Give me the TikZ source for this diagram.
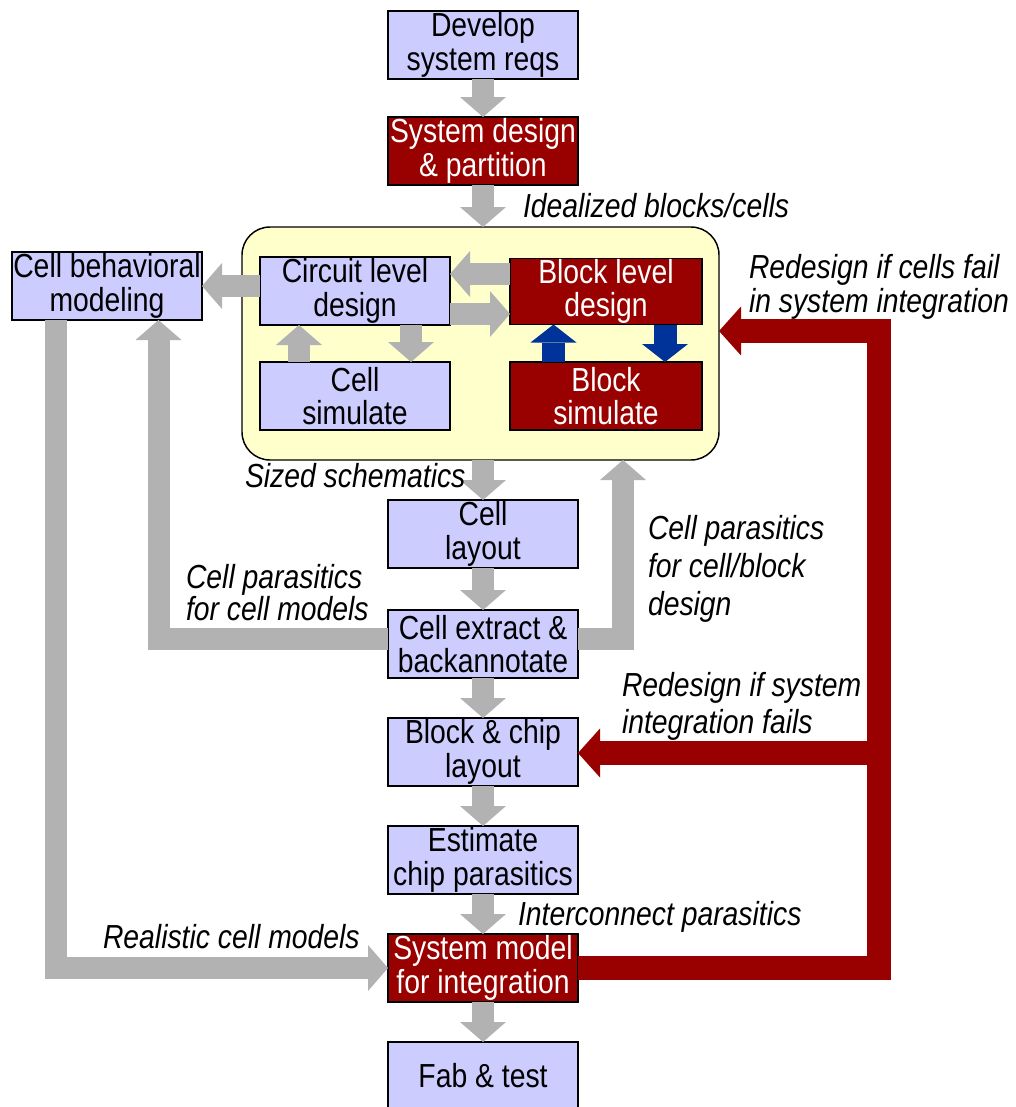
\documentclass[tikz,border=0pt]{standalone}
\usepackage{fontspec}
\setmainfont[FakeStretch=0.85]{Liberation Sans}
\usetikzlibrary{arrows.meta,calc}
\definecolor{boxlav}{HTML}{CCCCFF}
\definecolor{boxred}{HTML}{990000}
\definecolor{zonefill}{HTML}{FFFFCC}
\definecolor{flowgray}{HTML}{B2B2B2}
\definecolor{flowblue}{HTML}{003399}
\begin{document}
\begin{tikzpicture}[x=0.75pt,y=-0.75pt,
  every node/.style={outer sep=0pt},
  stage/.style={draw=black,line width=1.1pt,fill=boxlav,
    minimum width=142.5pt,minimum height=51pt,inner sep=0pt,align=center,
    font=\fontsize{25}{25}\selectfont},
  hotstage/.style={stage,fill=boxred,text=white},
  note/.style={inner sep=0pt,anchor=base west,align=left,
    font=\fontsize{25}{#1}\selectfont\itshape},
  note/.default=24pt,
  flow/.style={draw=flowgray,line width=16.5pt,line join=miter,
    -{Triangle[width=34.5pt,length=15pt,line width=0pt]}},
  redflow/.style={draw=boxred,line width=18pt,line join=miter,
    -{Triangle[width=36.75pt,length=16.5pt,line width=0pt]}},
  blueflow/.style={draw=flowblue,line width=17.25pt,
    -{Triangle[width=34.5pt,length=13.5pt,line width=0pt]}}
]
\useasboundingbox (0,0) rectangle (1016,1107);

% design zone around the circuit / block loop
\node[draw=black,line width=1.1pt,fill=zonefill,rounded corners=21pt,
  minimum width=357.75pt,minimum height=174.75pt] (zone) at (480.5,343.5) {};

% main flow stages
\node[stage]    (req)  at (483,45)   {Develop\\system reqs};
\node[hotstage] (sysd) at (483,151)  {System design\\\& partition};
\node[stage]    (cbm)  at (107,286)  {Cell behavioral\\modeling};
\node[stage]    (cld)  at (355,291)  {Circuit level\\design};
\node[stage]    (csim) at (355,396)  {Cell\\simulate};
\node[hotstage,minimum width=144pt,minimum height=49.5pt] (bld)  at (606,291.5) {Block level\\design};
\node[hotstage,minimum width=144pt] (bsim) at (606,396) {Block\\simulate};
\node[stage]    (clay) at (483,534)  {Cell\\layout};
\node[stage]    (cext) at (483,644)  {Cell extract \&\\backannotate};
\node[stage]    (bcl)  at (483,752)  {Block \& chip\\layout};
\node[stage]    (est)  at (483,860)  {Estimate\\chip parasitics};
\node[hotstage] (sysm) at (483,968)  {System model\\for integration};
\node[stage]    (fab)  at (483,1076) {Fab \& test};

% downward flow along the main column
\draw[flow] (req) -- (sysd);
\draw[flow] (sysd.south) -- (sysd.south |- zone.north);
\draw[flow] (clay.north |- zone.south) -- (clay.north);
\draw[flow] (clay) -- (cext);
\draw[flow] (cext) -- (bcl);
\draw[flow] (bcl) -- (est);
\draw[flow] (est) -- (sysm);
\draw[flow] (sysm) -- (fab);

% exchanges inside the design zone
\draw[flow] (cld.west |- cbm.east) -- (cbm.east);
\coordinate (bupper) at ($(bld.west)+(0,-17.5)$);
\coordinate (clower) at ($(cld.east)+(0,23)$);
\draw[flow] (bupper) -- (cld.east |- bupper);
\draw[flow] (clower) -- (bld.west |- clower);
\draw[flow] ($(csim.north west)+(39,0)$) -- ($(cld.south west)+(39,0)$);
\draw[flow] ($(cld.south west)+(151,0)$) -- ($(csim.north west)+(151,0)$);
\draw[blueflow] ($(bsim.north west)+(43.5,0)$) -- ($(bld.south west)+(43.5,0)$);
\draw[blueflow] ($(bld.south west)+(155,0)$) -- ($(bsim.north west)+(155,0)$);

% parasitic back-annotation loops
\draw[flow] ($(cext.west)+(0,-5.5)$) -| ($(cbm.south west)+(146.5,0)$);
\draw[flow] ($(cext.east)+(0,-5.5)$) -| ($(zone.south west)+(381,0)$);
\draw[flow] ($(cbm.south west)+(43.5,0)$) |- (sysm.west);

% redesign feedback from system integration
\coordinate (rtop) at (878.5,331);
\coordinate (rmid) at (878.5,753);
\draw[redflow] (sysm.east) -| (rtop) -- (zone.east |- rtop);
\draw[redflow] (rmid) -- (bcl.east |- rmid);

% annotations (anchored on the baseline of their last line)
\node[note] (nideal) at (523,217) {Idealized blocks/cells};
\node[note] (nsized) at (245,487) {Sized schematics};
\node[note=24pt] (ncellmod) at (186,620) {Cell parasitics\\for cell models};
\node[note=28.5pt] (nblock) at (648,615) {Cell parasitics\\for cell/block\\design};
\node[note=27.75pt] (nsysfail) at (622,733) {Redesign if system\\integration fails};
\node[note=25.5pt] (ncellfail) at (749,312) {Redesign if cells fail\\in system integration};
\node[note] (ninter) at (518,925) {Interconnect parasitics};
\node[note] (nreal) at (103,948) {Realistic cell models};
\end{tikzpicture}
\end{document}
